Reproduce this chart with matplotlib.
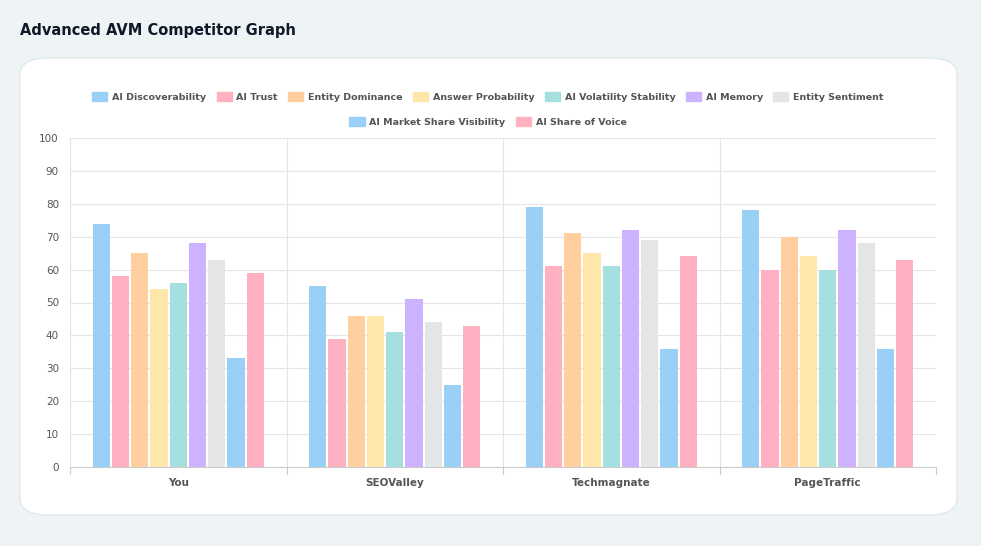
import numpy as np
import matplotlib.pyplot as plt
from matplotlib.patches import FancyBboxPatch

companies = ['You', 'SEOValley', 'Techmagnate', 'PageTraffic']
metrics = ['AI Discoverability', 'AI Trust', 'Entity Dominance', 'Answer Probability',
           'AI Volatility Stability', 'AI Memory', 'Entity Sentiment',
           'AI Market Share Visibility', 'AI Share of Voice']
values = {
    'You':         [74, 58, 65, 54, 56, 68, 63, 33, 59],
    'SEOValley':   [55, 39, 46, 46, 41, 51, 44, 25, 43],
    'Techmagnate': [79, 61, 71, 65, 61, 72, 69, 36, 64],
    'PageTraffic': [78, 60, 70, 64, 60, 72, 68, 36, 63],
}
fills = ['#9ad0f5', '#ffb1c1', '#ffcf9f', '#ffe6aa', '#a5dfdf', '#ccb2ff', '#e4e5e7', '#9ad0f5', '#ffb1c1']

W, H = 981, 546
fig = plt.figure(figsize=(W / 100, H / 100), dpi=100)
fig.patch.set_facecolor('#eef3f6')

# card background
card = FancyBboxPatch((20 / W, 1 - 515 / H), 937 / W, 457 / H,
                      boxstyle='round,pad=0,rounding_size=0.03', transform=fig.transFigure,
                      facecolor='white', edgecolor='#e3e8ee', lw=1, zorder=-5)
fig.patches.append(card)
fig.text(20 / W, 1 - 30 / H, 'Advanced AVM Competitor Graph', fontsize=10.5, fontweight='bold',
         color='#111827', va='center')

ax = fig.add_axes([70 / W, 1 - 467 / H, 866 / W, 329 / H])
ax.set_zorder(2)
ax.set_facecolor('none')
n = len(metrics)
slot = 0.8 / n
for j, m in enumerate(metrics):
    xs = np.arange(len(companies)) - 0.4 + slot * (j + 0.5)
    ys = [values[c][j] for c in companies]
    ax.bar(xs, ys, width=slot * 0.9, color=fills[j], lw=0, zorder=3)

ax.set_xlim(-0.5, len(companies) - 0.5)
ax.set_ylim(0, 100)
ax.set_yticks(range(0, 101, 10))
ax.set_xticks(range(len(companies)))
ax.set_xticklabels(companies, fontsize=7.5, fontweight='bold', color='#555')
ax.tick_params(axis='y', labelsize=7.5, colors='#555', length=0, pad=8)
ax.tick_params(axis='x', length=0, pad=8)
ax.grid(axis='y', color='#e5e5e5', lw=0.8, zorder=0)
for b in np.arange(0.5, len(companies) - 0.5):
    ax.axvline(b, color='#e5e5e5', lw=0.8, zorder=0)
for b in np.arange(-0.5, len(companies) + 0.5):
    ax.plot([b, b], [0, -2], color='#ccc', lw=0.8, clip_on=False)
for s in ['top', 'right']:
    ax.spines[s].set_visible(False)
ax.spines['left'].set_color('#e5e5e5')
ax.spines['bottom'].set_color('#ccc')

handles = [plt.Rectangle((0, 0), 1, 1, facecolor=fills[j], edgecolor=fills[j]) for j in range(n)]
leg1 = fig.legend(handles[:7], metrics[:7], loc='center', bbox_to_anchor=(488 / W, 1 - 97 / H),
                  ncol=7, frameon=False, fontsize=6.8, handlelength=1.6, handleheight=1.0,
                  columnspacing=1.1, handletextpad=0.5)
fig.legend(handles[7:], metrics[7:], loc='center', bbox_to_anchor=(488 / W, 1 - 122 / H),
           ncol=2, frameon=False, fontsize=6.8, handlelength=1.6, handleheight=1.0,
           columnspacing=1.1, handletextpad=0.5)
for leg in fig.legends:
    for t in leg.get_texts():
        t.set_color('#555')
        t.set_fontweight('bold')

fig.savefig('out.png', dpi=100, facecolor=fig.get_facecolor())
